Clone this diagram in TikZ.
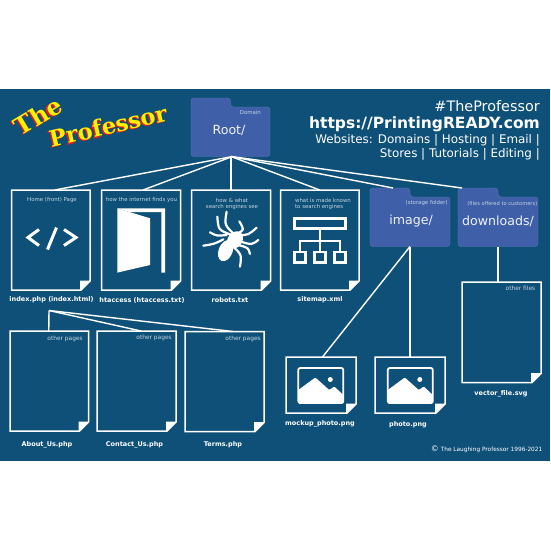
\documentclass[tikz,border=0pt]{standalone}
\usepackage{fontspec}
\setmainfont{DejaVu Sans}
\newfontfamily\titlefont{DejaVu Serif}
\usetikzlibrary{calc}
\definecolor{bgblue}{HTML}{0F5078}
\definecolor{folderblue}{HTML}{3F5FA8}
\definecolor{folderedge}{HTML}{5A78B4}
\definecolor{notecol}{HTML}{C4D4E2}
\definecolor{titlered}{HTML}{F01818}
\definecolor{titleyellow}{HTML}{FFF200}
\tikzset{
 box/.style={inner sep=0pt,outer sep=0pt},
 pageline/.style={draw=white,line width=1.5pt,line join=miter},
 link/.style={draw=white,line width=1.4pt},
 note/.style={text=notecol,font=\fontsize{5.4}{6.9}\selectfont,align=center,inner sep=0pt},
 rnote/.style={note,anchor=east,font=\fontsize{5.9}{7}\selectfont},
 fname/.style={text=white,font=\fontsize{6.5}{7}\selectfont\bfseries,inner sep=0pt},
 ftitle/.style={text=white!92!folderblue,font=\fontsize{12.6}{14}\selectfont,inner sep=0pt},
 hdr/.style={text=white,anchor=east,inner sep=0pt},
 icon/.style={draw=white,line width=3pt},
}
\newcommand{\filepage}[5]{%
 \node[box,minimum width={#4-#2},minimum height={#5-#3}] (#1) at ({(#2+#4)/2},{(#3+#5)/2}) {};
 \draw[pageline] (#2,#3) -- (#4,#3) -- (#4,{#5-9}) -- ({#4-9},#5) -- (#2,#5) -- cycle;
 \fill[white] (#4,{#5-9.5}) -- ({#4-10},{#5-9.5}) -- ({#4-10},#5) -- ({#4-9},#5) -- cycle;
}
\newcommand{\folderbox}[5]{%
 \node[box,minimum width={#4-#2},minimum height={#5-#3}] (#1) at ({(#2+#4)/2},{(#3+#5)/2}) {};
 \filldraw[fill=folderblue,draw=folderedge,line width=.4pt,rounded corners=3pt]
  (#2,#3) -- ({(#2+#4)/2},#3) -- ({(#2+#4)/2},{#3+9}) -- (#4,{#3+9}) -- (#4,#5) -- (#2,#5) -- cycle;
}
\newcommand{\photoicon}[2]{%
 \begin{scope}[shift={(#1,#2)}]
 \draw[white,line width=1.8pt,rounded corners=2pt] (0,0) rectangle (45,35);
 \fill[white,rounded corners=1pt] (0,22) -- (17,9.5) -- (31,22) -- (36,18.5) -- (45,27) -- (45,35.5) -- (0,35.5) -- cycle;
 \fill[white] (32,11.5) circle (2.5);
 \end{scope}
}
\newcommand{\spiderleg}[3]{\draw[white,line width=2.2pt,line cap=round] #1 .. controls #2 .. #3;}
\begin{document}
\begin{tikzpicture}[x=1pt,y=-1pt]
\useasboundingbox (0,0) rectangle (550,550);
\fill[white] (0,0) rectangle (550,550);
\fill[bgblue] (0,89) rectangle (550,461);

% title
\foreach \c/\d in {titlered/1.2,titleyellow/0}{
 \node[box,text=\c,rotate=31,font=\titlefont\fontsize{24}{24}\selectfont\bfseries] (the\c) at ({38-\d},{116+\d}) {The};
 \node[box,text=\c,rotate=13,font=\titlefont\fontsize{22.5}{24}\selectfont\bfseries] (prof\c) at ({108-\d},{126+\d}) {Professor};
}

% header
\node[hdr,font=\fontsize{14.4}{16}\selectfont] (h1) at (540,106.5) {\#TheProfessor};
\node[hdr,font=\fontsize{15.5}{16}\selectfont\bfseries] (h2) at (540,124) {https://PrintingREADY.com};
\node[hdr,font=\fontsize{11.9}{12}\selectfont] (h3) at (540,140) {Websites: Domains | Hosting | Email |};
\node[hdr,font=\fontsize{11.9}{12}\selectfont] (h4) at (540,154.5) {Stores | Tutorials | Editing |};

% folders
\folderbox{root}{191}{98}{270}{156.5}
\folderbox{imgf}{370}{188}{450}{246.5}
\folderbox{dlf}{458}{188}{538}{246.5}
\node[note,anchor=east] (rootnote) at (261,112.5) {Domain};
\node[ftitle] (roott) at (229,130) {Root/};
\node[note,anchor=east] (imgnote) at (448,203.5) {(storage folder)};
\node[ftitle] (imgt) at (411,221) {image/};
\node[note,anchor=east,font=\fontsize{5.15}{6}\selectfont] (dlnote) at (537.5,203.5) {(files offered to customers)};
\node[ftitle] (dlt) at (498,221) {downloads/};

% pages
\filepage{idx}{11.5}{190}{90}{290}
\filepage{hta}{101.5}{190}{180.5}{290}
\filepage{rob}{191.5}{190}{270.5}{290}
\filepage{sit}{280.5}{190}{359}{290}
\filepage{abo}{10}{331}{88.5}{431}
\filepage{con}{97}{331}{176}{431}
\filepage{ter}{185}{331.5}{264}{431.5}
\filepage{vec}{462}{282}{541}{382.5}
\filepage{moc}{286}{357}{356}{413}
\filepage{pho}{375}{357}{445}{413}

% connectors
\coordinate (hub) at (49,310.5);
\draw[link] ([xshift=2pt]root.south) -- ([xshift=4pt]idx.north);
\draw[link] ([xshift=2pt]root.south) -- ([xshift=2pt]hta.north);
\draw[link] ([xshift=.5pt]root.south) -- (rob.north);
\draw[link] ([xshift=.5pt]root.south) -- (sit.north);
\draw[link] ([xshift=.5pt]root.south) -- ([xshift=-17pt]imgf.north);
\draw[link] ([xshift=.5pt]root.south) -- ([xshift=-36pt]dlf.north);
\draw[link] (imgf.south) -- ([xshift=1.5pt]moc.north);
\draw[link] (imgf.south) -- (pho.north);
\draw[link] (dlf.south) -- ([xshift=-3.5pt]vec.north);
\draw[link] (hub) -- ([xshift=-.5pt]abo.north);
\draw[link] (hub) -- ([xshift=4.5pt]con.north);
\draw[link] (hub) -- ([xshift=8.5pt]ter.north);

% page notes
\node[note] (n1) at (52,200.5) {Home (front) Page};
\node[note] (n2) at (141.5,200.5) {how the internet finds you};
\node[note] (n3) at (232,204) {how \& what\\search engines see};
\node[note,align=left] (n4) at (323,204) {what is made known\\to search engines};
\node[rnote] (n5) at (83,338.5) {other pages};
\node[rnote] (n6) at (172,338) {other pages};
\node[rnote] (n7) at (261,338.5) {other pages};
\node[rnote] (n8) at (535.5,288.5) {other files};

% file names
\node[fname] (f1) at (51.5,300) {index.php (index.html)};
\node[fname] (f2) at (142,300) {htaccess (htaccess.txt)};
\node[fname] (f3) at (230,300.5) {robots.txt};
\node[fname] (f4) at (320,299.5) {sitemap.xml};
\node[fname] (f5) at (47,444.5) {About\_Us.php};
\node[fname] (f6) at (134.5,444.5) {Contact\_Us.php};
\node[fname] (f7) at (223,444.5) {Terms.php};
\node[fname] (f8) at (320,424) {mockup\_photo.png};
\node[fname] (f9) at (408,425) {photo.png};
\node[fname] (f10) at (501,393.5) {vector\_file.svg};
\node[text=white,anchor=east,inner sep=0pt,font=\fontsize{5.8}{6}\selectfont] (cp) at (542.5,449.5) {{\fontsize{8}{6}\selectfont ©} The Laughing Professor 1996-2021};

% code icon
\draw[icon,miter limit=10] (39,229.5) -- (28,237.5) -- (39,245.5);
\draw[icon] (56.5,227.5) -- (47.5,249.5);
\draw[icon,miter limit=10] (64,229.5) -- (76,237.5) -- (64,245.5);

% door icon
\fill[white] (117.3,208.3) -- (150,218.3) -- (150,265) -- (117.3,272.6) -- cycle;
\fill[white] (117.3,208.3) -- (165,208.3) -- (165,272.6) -- (161.3,272.6) -- (161.3,212) -- (129.3,212) -- cycle;

% spider icon
\begin{scope}[shift={(185,180)},x=.3333pt,y=-.3333pt]
 \fill[white,rotate around={-22:(122,212)}] (122,212) ellipse [x radius=21,y radius=33];
 \fill[white,rotate around={-35:(150,180)}] (150,180) ellipse [x radius=22,y radius=28];
 \spiderleg{(140,165)}{(100,150)}{(97,110)}
 \spiderleg{(150,165)}{(118,135)}{(125,95)}
 \spiderleg{(158,160)}{(178,150)}{(163,124)}
 \spiderleg{(163,165)}{(190,165)}{(215,143)}
 \spiderleg{(168,185)}{(200,195)}{(220,180)}
 \spiderleg{(160,195)}{(190,203)}{(195,222)}
 \spiderleg{(150,205)}{(170,225)}{(165,260)}
 \spiderleg{(125,165)}{(95,168)}{(75,157)}
 \spiderleg{(115,178)}{(88,192)}{(55,197)}
\end{scope}

% sitemap icon
\begin{scope}[shift={(185,180)},x=.3333pt,y=-.3333pt]
 \draw[white,line width=2.8pt] (329,116) rectangle (481,146);
 \draw[white,line width=2.8pt] (405,146) -- (405,183) (345,216) -- (345,183) -- (465,183) -- (465,216) (405,183) -- (405,216);
 \draw[white,line width=2.8pt] (329,216) rectangle (361,247) (389,216) rectangle (421,247) (449,216) rectangle (481,247);
\end{scope}

\photoicon{298.3}{368}
\photoicon{387.8}{368}
\end{tikzpicture}
\end{document}
